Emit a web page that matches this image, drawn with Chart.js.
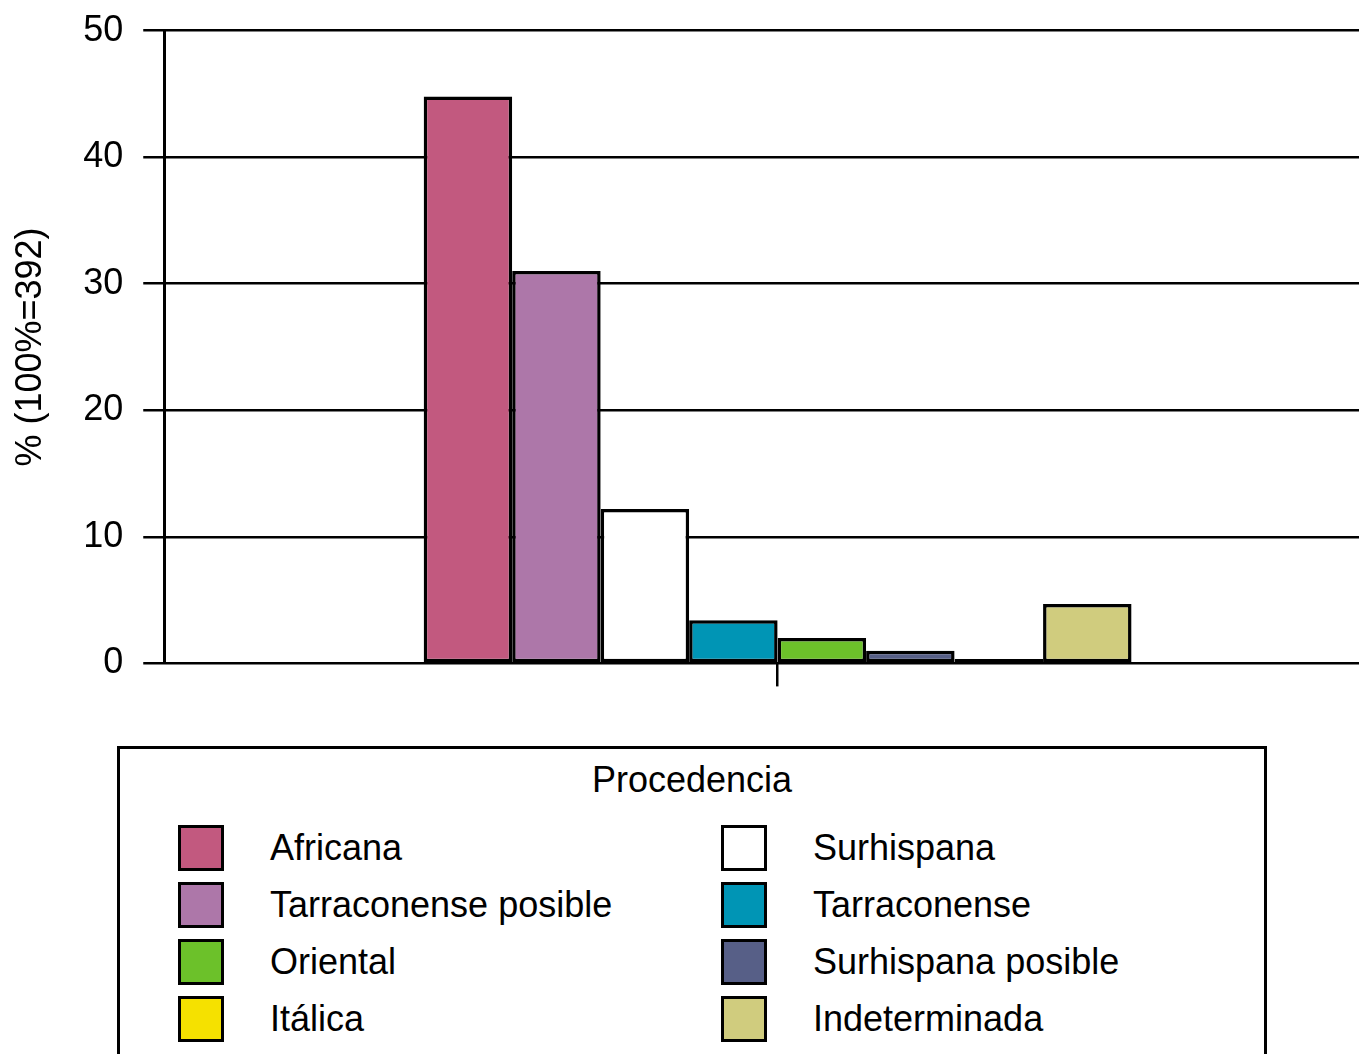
<!DOCTYPE html>
<html>
<head>
<meta charset="utf-8">
<script src="https://cdn.jsdelivr.net/npm/chart.js@4.4.0/dist/chart.umd.min.js"></script>
<style>
  html, body { margin: 0; padding: 0; background: #fff; overflow: hidden; width: 1359px; height: 1054px; }
  body { position: relative; font-family: "Liberation Sans", Arial, sans-serif; }
  #chart-procedencia { position: absolute; left: 0; top: -11px; }
  #legend {
    position: absolute; left: 117px; top: 746px; width: 1144px; height: 360px;
    border: 3px solid #000; box-sizing: content-box;
  }
  #legend .title {
    position: absolute; left: 0; right: 0; top: 10px; text-align: center;
    font-size: 36px; color: #000;
  }
  #legend .items {
    position: absolute; left: 58px; top: 70px;
    display: grid; grid-auto-flow: column;
    grid-template-rows: repeat(4, 57px); grid-template-columns: 543px 500px;
  }
  #legend .item { display: flex; align-items: center; font-size: 36px; color: #000; }
  #legend .sw { width: 40px; height: 40px; border: 3px solid #000; margin-right: 46px; }
</style>
</head>
<body>
<canvas id="chart-procedencia" width="1391" height="716"></canvas>
<div id="legend">
  <div class="title">Procedencia</div>
  <div class="items"></div>
</div>
<script>
  // datos
  const categories = [""];
  const seriesNames = [
    "Africana",
    "Tarraconense posible",
    "Surhispana",
    "Tarraconense",
    "Oriental",
    "Surhispana posible",
    "Itálica",
    "Indeterminada",
  ];
  const seriesValues = [44.8, 31.0, 12.2, 3.4, 2.0, 1.0, 0.35, 4.7];
  const seriesColors = [
    "#C2597F",
    "#AD77A9",
    "#FFFFFF",
    "#0095B5",
    "#6CC12A",
    "#575F87",
    "#F5E100",
    "#D0CC7E",
  ];
  // orden en la leyenda (dos columnas)
  const legendOrder = [0, 1, 4, 6, 2, 3, 5, 7];
  const yTitle = "% (100%=392)";

  const ctx = document.getElementById("chart-procedencia").getContext("2d");

  const datasets = seriesNames.map((name, i) => ({
    label: name,
    data: [seriesValues[i]],
    backgroundColor: seriesColors[i],
    borderColor: "#000",
    borderWidth: 3.5,
    borderSkipped: false,
    categoryPercentage: 0.577,
    barPercentage: 1,
  }));

  new Chart(ctx, {
    type: "bar",
    data: { labels: categories, datasets },
    options: {
      responsive: false,
      animation: false,
      layout: { padding: { top: 6, right: 0, bottom: 0, left: 0 } },
      plugins: {
        legend: { display: false },
        tooltip: { enabled: false },
      },
      scales: {
        x: {
          grid: {
            drawOnChartArea: false,
            color: "#000",
            lineWidth: 2.5,
            tickLength: 23,
            offset: false,
          },
          border: { display: false },
          ticks: { display: false },
        },
        y: {
          min: 0,
          max: 50,
          ticks: {
            stepSize: 10,
            color: "#000",
            font: { family: "Liberation Sans", size: 36 },
            padding: 20,
          },
          grid: { color: "#000", lineWidth: 2.5, tickLength: 21 },
          border: { color: "#000", width: 3 },
          title: {
            display: true,
            text: yTitle,
            color: "#000",
            font: { family: "Liberation Sans", size: 36 },
            padding: { top: 9, bottom: 11 },
          },
        },
      },
    },
  });

  // leyenda HTML
  const items = document.querySelector("#legend .items");
  legendOrder.forEach((i) => {
    const el = document.createElement("div");
    el.className = "item";
    el.innerHTML = `<span class="sw" style="background:${seriesColors[i]}"></span>${seriesNames[i]}`;
    items.appendChild(el);
  });
</script>
</body>
</html>
